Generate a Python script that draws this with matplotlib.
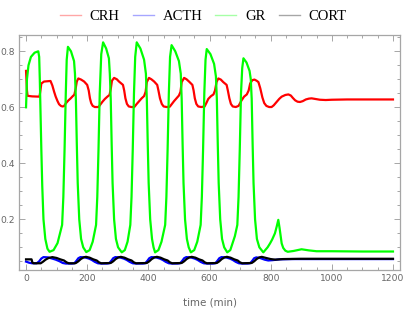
import matplotlib
matplotlib.use("Agg")
import matplotlib.pyplot as plt
from matplotlib.lines import Line2D
from matplotlib.ticker import MultipleLocator

# CRH (red)
crh_t = [0, 3, 5, 20, 44, 47, 50, 59, 80, 86, 92, 97, 103, 108, 114, 119, 124, 130, 138, 146,
         153, 158, 162, 166, 171, 180, 190, 200, 205, 209, 213, 218, 225, 237, 243, 250, 258, 266,
         273, 277, 281, 288, 297, 304, 317, 321, 325, 330, 336, 345, 354, 362, 370, 378, 386, 391,
         395, 402, 410, 419, 429, 433, 438, 444, 450, 460, 470, 477, 484, 492, 500, 505, 509, 517,
         525, 533, 544, 548, 552, 557, 563, 573, 584, 590, 596, 605, 613, 618, 623, 629, 637, 645,
         656, 660, 665, 670, 676, 686, 695, 705, 713, 722, 728, 733, 740, 747, 754, 760, 766, 773,
         779, 786, 795, 803, 810, 820, 828, 836, 848, 858, 866, 873, 880, 888, 896, 905, 915, 925,
         934, 945, 961, 980, 1000, 1050, 1200]
crh_v = [0.73, 0.66, 0.641, 0.639, 0.638, 0.66, 0.685, 0.692, 0.694, 0.678, 0.655, 0.638, 0.622,
         0.611, 0.605, 0.603, 0.604, 0.614, 0.624, 0.632, 0.64, 0.645, 0.665, 0.692, 0.703, 0.699,
         0.692, 0.68, 0.66, 0.632, 0.615, 0.605, 0.601, 0.601, 0.61, 0.62, 0.63, 0.638, 0.644, 0.665,
         0.695, 0.705, 0.70, 0.692, 0.68, 0.66, 0.632, 0.612, 0.603, 0.601, 0.601, 0.612, 0.622,
         0.632, 0.64, 0.655, 0.69, 0.705, 0.70, 0.692, 0.68, 0.66, 0.632, 0.612, 0.603, 0.601, 0.602,
         0.612, 0.622, 0.632, 0.642, 0.655, 0.69, 0.705, 0.70, 0.692, 0.68, 0.66, 0.632, 0.612, 0.603,
         0.601, 0.603, 0.616, 0.63, 0.64, 0.646, 0.66, 0.69, 0.703, 0.699, 0.69, 0.68, 0.66, 0.632,
         0.612, 0.603, 0.601, 0.605, 0.625, 0.638, 0.646, 0.66, 0.685, 0.697, 0.699, 0.695, 0.69,
         0.668, 0.635, 0.615, 0.605, 0.601, 0.601, 0.607, 0.62, 0.63, 0.638, 0.644, 0.646, 0.642,
         0.633, 0.625, 0.62, 0.619, 0.622, 0.628, 0.631, 0.632, 0.63, 0.627, 0.626, 0.627, 0.628,
         0.628]

# ACTH (blue)
acth_t = [0, 10, 20, 35, 43, 50, 57, 72, 85, 97, 110, 120, 130, 150,
          158, 165, 171, 178, 192, 205, 215, 225, 235, 245, 265,
          272, 279, 285, 292, 306, 319, 329, 339, 349, 359, 382,
          390, 397, 403, 410, 424, 437, 447, 457, 467, 477, 496,
          504, 511, 517, 524, 538, 551, 561, 571, 581, 591, 611,
          619, 626, 632, 639, 653, 666, 676, 686, 696, 706, 725,
          733, 740, 746, 753, 765, 780, 792, 805, 830, 870, 1200]
acth_v = [0.049, 0.045, 0.043, 0.043, 0.05, 0.06, 0.065, 0.064, 0.06, 0.056, 0.05, 0.044, 0.042, 0.042,
          0.043, 0.052, 0.061, 0.065, 0.064, 0.06, 0.055, 0.048, 0.043, 0.042, 0.042,
          0.043, 0.052, 0.061, 0.065, 0.064, 0.06, 0.055, 0.048, 0.043, 0.042, 0.042,
          0.043, 0.052, 0.061, 0.065, 0.064, 0.06, 0.055, 0.048, 0.043, 0.042, 0.042,
          0.043, 0.052, 0.061, 0.065, 0.064, 0.06, 0.055, 0.048, 0.043, 0.042, 0.042,
          0.043, 0.052, 0.061, 0.065, 0.064, 0.06, 0.055, 0.048, 0.043, 0.042, 0.042,
          0.043, 0.052, 0.061, 0.064, 0.062, 0.056, 0.053, 0.054, 0.057, 0.058, 0.058]

# GR (green)
gr_t = [0, 3, 8, 16, 28, 40, 43, 45, 47, 50, 53, 57, 63, 70, 77,
        90, 103, 118, 122, 126, 130, 133, 137, 147, 157, 160, 163, 166, 169, 174, 180, 187, 197,
        208, 218, 229, 233, 237, 241, 246, 252, 262, 271, 274, 277, 280, 283, 288, 294, 301, 313,
        323, 332, 341, 345, 349, 353, 357, 362, 374, 386, 392, 395, 398, 401, 406, 412, 417, 422,
        433, 443, 455, 459, 463, 467, 471, 476, 488, 500, 506, 509, 512, 515, 520, 526, 532, 539,
        550, 560, 571, 575, 579, 583, 587, 591, 603, 615, 621, 624, 627, 630, 635, 641, 648, 658,
        668, 683, 691, 695, 699, 703, 707, 711, 721, 731, 735, 738, 741, 744, 749, 755, 763, 776,
        790, 798, 805, 814, 820, 825, 829, 836, 841, 848, 856, 875, 901, 925, 950, 1000, 1100, 1200]
gr_v = [0.60, 0.70, 0.75, 0.78, 0.795, 0.80, 0.78, 0.70, 0.60, 0.45, 0.32, 0.20, 0.13, 0.095, 0.084,
        0.09, 0.115, 0.18, 0.28, 0.45, 0.65, 0.77, 0.816, 0.80, 0.765, 0.72, 0.63, 0.47, 0.33, 0.20, 0.13, 0.10, 0.083,
        0.09, 0.12, 0.18, 0.28, 0.45, 0.65, 0.79, 0.832, 0.81, 0.775, 0.72, 0.63, 0.47, 0.33, 0.20, 0.13, 0.10, 0.082,
        0.09, 0.12, 0.18, 0.28, 0.45, 0.65, 0.78, 0.832, 0.81, 0.77, 0.72, 0.63, 0.47, 0.33, 0.20, 0.13, 0.10, 0.082,
        0.09, 0.12, 0.18, 0.28, 0.45, 0.65, 0.78, 0.822, 0.80, 0.765, 0.72, 0.63, 0.47, 0.33, 0.20, 0.13, 0.10, 0.082,
        0.09, 0.12, 0.18, 0.28, 0.45, 0.65, 0.77, 0.808, 0.79, 0.755, 0.71, 0.63, 0.47, 0.33, 0.20, 0.13, 0.10, 0.082,
        0.09, 0.14, 0.18, 0.28, 0.45, 0.65, 0.74, 0.775, 0.76, 0.73, 0.70, 0.63, 0.47, 0.33, 0.20, 0.13, 0.10, 0.082,
        0.10, 0.114, 0.128, 0.15, 0.175, 0.198, 0.17, 0.114, 0.098, 0.088, 0.084, 0.087, 0.093, 0.089, 0.086,
        0.086, 0.085, 0.085]

# CORT (black)
cort_t = [0, 18, 21, 25, 48, 56, 64, 74, 86, 100, 112, 124, 133, 140, 160,
          163, 171, 179, 188, 196, 208, 220, 231, 239, 246,
          277, 285, 293, 302, 310, 322, 334, 345, 353, 360,
          395, 403, 411, 420, 428, 440, 452, 463, 471, 478,
          509, 517, 525, 534, 542, 554, 566, 577, 585, 592,
          624, 632, 640, 649, 657, 669, 681, 692, 700, 707,
          738, 746, 754, 763, 771, 785, 800, 815, 840, 900, 1200]
cort_v = [0.057, 0.057, 0.045, 0.043, 0.043, 0.049, 0.056, 0.062, 0.065, 0.062, 0.057, 0.053, 0.046, 0.043, 0.043,
          0.044, 0.05, 0.058, 0.064, 0.066, 0.063, 0.057, 0.053, 0.046, 0.043,
          0.044, 0.05, 0.058, 0.064, 0.066, 0.063, 0.057, 0.053, 0.046, 0.043,
          0.044, 0.05, 0.058, 0.064, 0.066, 0.063, 0.057, 0.053, 0.046, 0.043,
          0.044, 0.05, 0.058, 0.064, 0.066, 0.063, 0.057, 0.053, 0.046, 0.043,
          0.044, 0.05, 0.058, 0.064, 0.066, 0.063, 0.057, 0.053, 0.046, 0.043,
          0.044, 0.05, 0.058, 0.064, 0.066, 0.062, 0.058, 0.056, 0.058, 0.059, 0.059]

series = [("CRH", crh_t, crh_v, "#ff0000"),
          ("ACTH", acth_t, acth_v, "#0000ff"),
          ("GR", gr_t, gr_v, "#00ff00"),
          ("CORT", cort_t, cort_v, "#000000")]

fig = plt.figure(figsize=(4.07, 3.13), dpi=100)
ax = fig.add_axes([0.0467, 0.1374, 0.9361, 0.7506])

for name, t, v, c in series:
    ax.plot(t, v, color=c, lw=1.6, solid_joinstyle="round")

ax.set_xlim(-23, 1223)
ax.set_ylim(0.019, 0.858)
ax.xaxis.set_major_locator(MultipleLocator(200))
ax.xaxis.set_minor_locator(MultipleLocator(50))
ax.yaxis.set_minor_locator(MultipleLocator(0.05))
ax.set_yticks([0.2, 0.4, 0.6, 0.8])
ax.set_yticklabels(["0.2", "0.4", "0.6", "0.8"])

frame_c = "#a6a6a6"
txt_c = "#666666"
for s in ax.spines.values():
    s.set_color(frame_c)
    s.set_linewidth(0.9)
ax.tick_params(which="both", direction="in", top=True, right=True, color=frame_c,
               labelcolor=txt_c, labelsize=6.6, width=0.7)
ax.tick_params(which="major", length=4.5, pad=3)
ax.tick_params(which="minor", length=2.5)
ax.set_xlabel("time (min)", color=txt_c, fontsize=7.4, labelpad=10)

handles = [Line2D([], [], color=c, lw=1, alpha=0.35) for _, _, _, c in series]
fig.legend(handles, [s[0] for s in series], loc="center", bbox_to_anchor=(0.499, 0.948),
           ncol=4, frameon=False, handlelength=1.45, columnspacing=0.9, handletextpad=0.6,
           prop={"family": "Liberation Serif", "size": 10.5})

fig.savefig("out.png", dpi=100)
